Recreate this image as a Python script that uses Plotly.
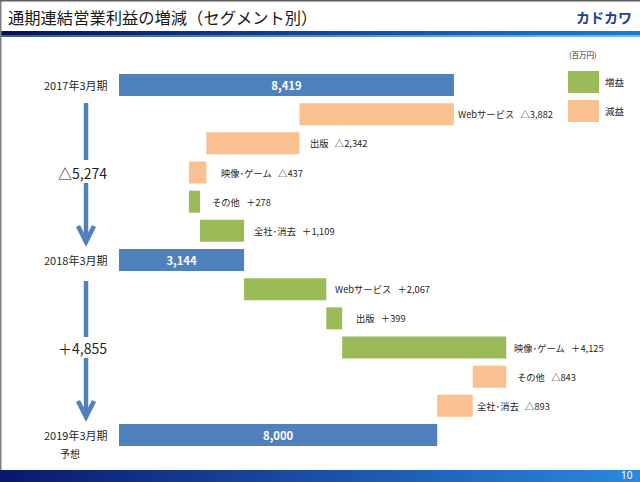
import plotly.graph_objects as go

# ---------------- data ----------------
periods = ["2017年3月期", "2018年3月期", "2019年3月期"]
period_totals = [8419, 3144, 8000]
segments = ["Webサービス", "出版", "映像･ゲーム", "その他", "全社･消去"]
delta_fy2018 = [-3882, -2342, -437, 278, 1109]
delta_fy2019 = [2067, 399, 4125, -843, -893]
legend_labels = ["増益", "減益"]
unit_label = "(百万円)"
forecast_note = "予想"
title_text = "通期連結営業利益の増減（セグメント別）"
logo_text = "カドカワ"
page_no = "10"

# ---------------- style ----------------
W, H = 640, 482
BLUE = "#4F81BD"
GREEN = "#9BBB59"
ORANGE = "#FAC090"
TXT = "#1f1f1f"
FONT = "Noto Sans CJK JP"
label_gap_px = [2, 9, 13, 10, 8, 7, 12, 6, 9, 2]

px_per_unit = 0.03978
zero_px = 119
row0_px, row_step_px = 85, 29.17


def px(x):
    return x / W


def py(y):
    return 1 - y / H


def fmt_delta(d):
    return ("△" if d < 0 else "＋") + f"{abs(d):,}"


# ---------------- build bars ----------------
tot_y, tot_x = [], []
inc_y, inc_x, inc_b = [], [], []
dec_y, dec_x, dec_b = [], [], []
annotations = []
row = 0
li = 0
groups = [delta_fy2018, delta_fy2019]
for g, total in enumerate(period_totals):
    tot_y.append(row)
    tot_x.append(total)
    annotations.append(dict(x=px(110), xref="paper", y=row, yref="y", text=periods[g],
                            xanchor="right", yanchor="middle", showarrow=False,
                            font=dict(family=FONT, size=11, color=TXT)))
    row += 1
    if g < len(groups):
        running = total
        for seg, d in zip(segments, groups[g]):
            new = running + d
            b = min(running, new)
            if d > 0:
                inc_y.append(row); inc_x.append(abs(d)); inc_b.append(b)
            else:
                dec_y.append(row); dec_x.append(abs(d)); dec_b.append(b)
            annotations.append(dict(x=max(running, new), xref="x", y=row, yref="y",
                                    text=f"{seg}   {fmt_delta(d)}", xanchor="left",
                                    xshift=label_gap_px[li], yanchor="middle", showarrow=False,
                                    font=dict(family=FONT, size=9.3, color=TXT)))
            li += 1
            running = new
            row += 1

bar_w = 0.754

fig = go.Figure()
fig.add_trace(go.Bar(orientation="h", y=tot_y, x=tot_x, base=[0] * len(tot_x), width=bar_w,
                     marker=dict(color=BLUE, line=dict(width=0)),
                     text=[f"<b>{v:,}</b>" for v in tot_x], textposition="inside",
                     insidetextanchor="middle", textangle=0,
                     textfont=dict(family=FONT, size=12, color="white"), hoverinfo="skip"))
fig.add_trace(go.Bar(orientation="h", y=inc_y, x=inc_x, base=inc_b, width=bar_w,
                     marker=dict(color=GREEN, line=dict(width=0)), hoverinfo="skip"))
fig.add_trace(go.Bar(orientation="h", y=dec_y, x=dec_x, base=dec_b, width=bar_w,
                     marker=dict(color=ORANGE, line=dict(width=0)), hoverinfo="skip"))

# forecast note
annotations.append(dict(x=px(70), xref="paper", y=py(453), yref="paper", text=forecast_note,
                        xanchor="center", yanchor="middle", showarrow=False,
                        font=dict(family=FONT, size=10, color=TXT)))

shapes = []


def lerp(c0, c1, t):
    return "rgb(%d,%d,%d)" % tuple(round(a + (b - a) * t) for a, b in zip(c0, c1))


def gradient_band(x0, x1, y0, y1, c0, c1, n=80):
    step = (x1 - x0) / n
    for i in range(n):
        shapes.append(dict(type="rect", xref="paper", yref="paper",
                           x0=px(x0 + i * step), x1=px(x0 + (i + 1) * step + 0.6),
                           y0=py(y1), y1=py(y0), line=dict(width=0),
                           fillcolor=lerp(c0, c1, i / (n - 1)), layer="below"))


# title underline & footer bands
gradient_band(0, W, 31, 35, (8, 18, 85), (25, 125, 215))
gradient_band(0, W, 35, 37, (60, 90, 165), (120, 185, 240))
gradient_band(0, W, 470, H, (10, 24, 110), (42, 136, 222))

# frame lines
shapes.append(dict(type="line", xref="paper", yref="paper", x0=px(0.5), x1=px(0.5),
                   y0=py(0), y1=py(470), line=dict(color="#808080", width=2)))
shapes.append(dict(type="line", xref="paper", yref="paper", x0=0, x1=1,
                   y0=py(0.5), y1=py(0.5), line=dict(color="#606060", width=2)))

# change arrows
changes = [sum(d) for d in groups]
arrow_specs = [(103, 160, 183, 242, 3), (281, 337, 358, 417, 9)]
for (a, b, c, tip, trow), ch in zip(arrow_specs, changes):
    shapes.append(dict(type="line", xref="paper", yref="paper", x0=px(86), x1=px(86),
                       y0=py(a), y1=py(b), line=dict(color=BLUE, width=4.5)))
    shapes.append(dict(type="line", xref="paper", yref="paper", x0=px(86), x1=px(86),
                       y0=py(c), y1=py(tip - 2), line=dict(color=BLUE, width=4.5)))
    path = f"M {px(78)} {py(tip - 16)} L {px(86)} {py(tip)} L {px(94)} {py(tip - 16)}"
    shapes.append(dict(type="path", xref="paper", yref="paper", path=path,
                       line=dict(color=BLUE, width=4.5)))
    annotations.append(dict(x=px(82), xref="paper", y=trow, yref="y", text=fmt_delta(ch),
                            xanchor="center", yanchor="middle", showarrow=False,
                            font=dict(family=FONT, size=14, color=TXT)))

# legend
for (y0, y1), col, lab in zip([(71, 93), (100, 122)], [GREEN, ORANGE], legend_labels):
    shapes.append(dict(type="rect", xref="paper", yref="paper", x0=px(568), x1=px(599),
                       y0=py(y1), y1=py(y0), fillcolor=col, line=dict(width=0)))
    annotations.append(dict(x=px(603), xref="paper", y=py((y0 + y1) / 2), yref="paper",
                            text=lab, xanchor="left", yanchor="middle", showarrow=False,
                            font=dict(family=FONT, size=9.5, color=TXT)))
annotations.append(dict(x=px(583), xref="paper", y=py(54), yref="paper", text=unit_label,
                        xanchor="center", yanchor="middle", showarrow=False,
                        font=dict(family=FONT, size=7.5, color=TXT)))

# title, logo, page number
annotations.append(dict(x=px(6), xref="paper", y=py(17), yref="paper", text=title_text,
                        xanchor="left", yanchor="middle", showarrow=False,
                        font=dict(family=FONT, size=16.3, color="#1a1a1a")))
annotations.append(dict(x=px(634), xref="paper", y=py(17), yref="paper", text=f"<b>{logo_text}</b>",
                        xanchor="right", yanchor="middle", showarrow=False,
                        font=dict(family=FONT, size=14, color="#1d3f95")))
annotations.append(dict(x=px(634), xref="paper", y=py(475), yref="paper", text=page_no,
                        xanchor="right", yanchor="middle", showarrow=False, borderpad=0,
                        font=dict(family="Noto Sans", size=10, color="white")))

fig.update_layout(
    width=W, height=H, autosize=False,
    margin=dict(l=0, r=0, t=0, b=0, pad=0),
    paper_bgcolor="white", plot_bgcolor="white",
    showlegend=False, barmode="overlay",
    xaxis=dict(range=[-zero_px / px_per_unit, (W - zero_px) / px_per_unit], visible=False, fixedrange=True),
    yaxis=dict(range=[(H - row0_px) / row_step_px, -row0_px / row_step_px], visible=False, fixedrange=True),
    shapes=shapes, annotations=annotations,
)

fig.write_html("out.html", config={"displayModeBar": False},
               post_script="document.body.style.margin='0';document.body.style.overflow='hidden';")
